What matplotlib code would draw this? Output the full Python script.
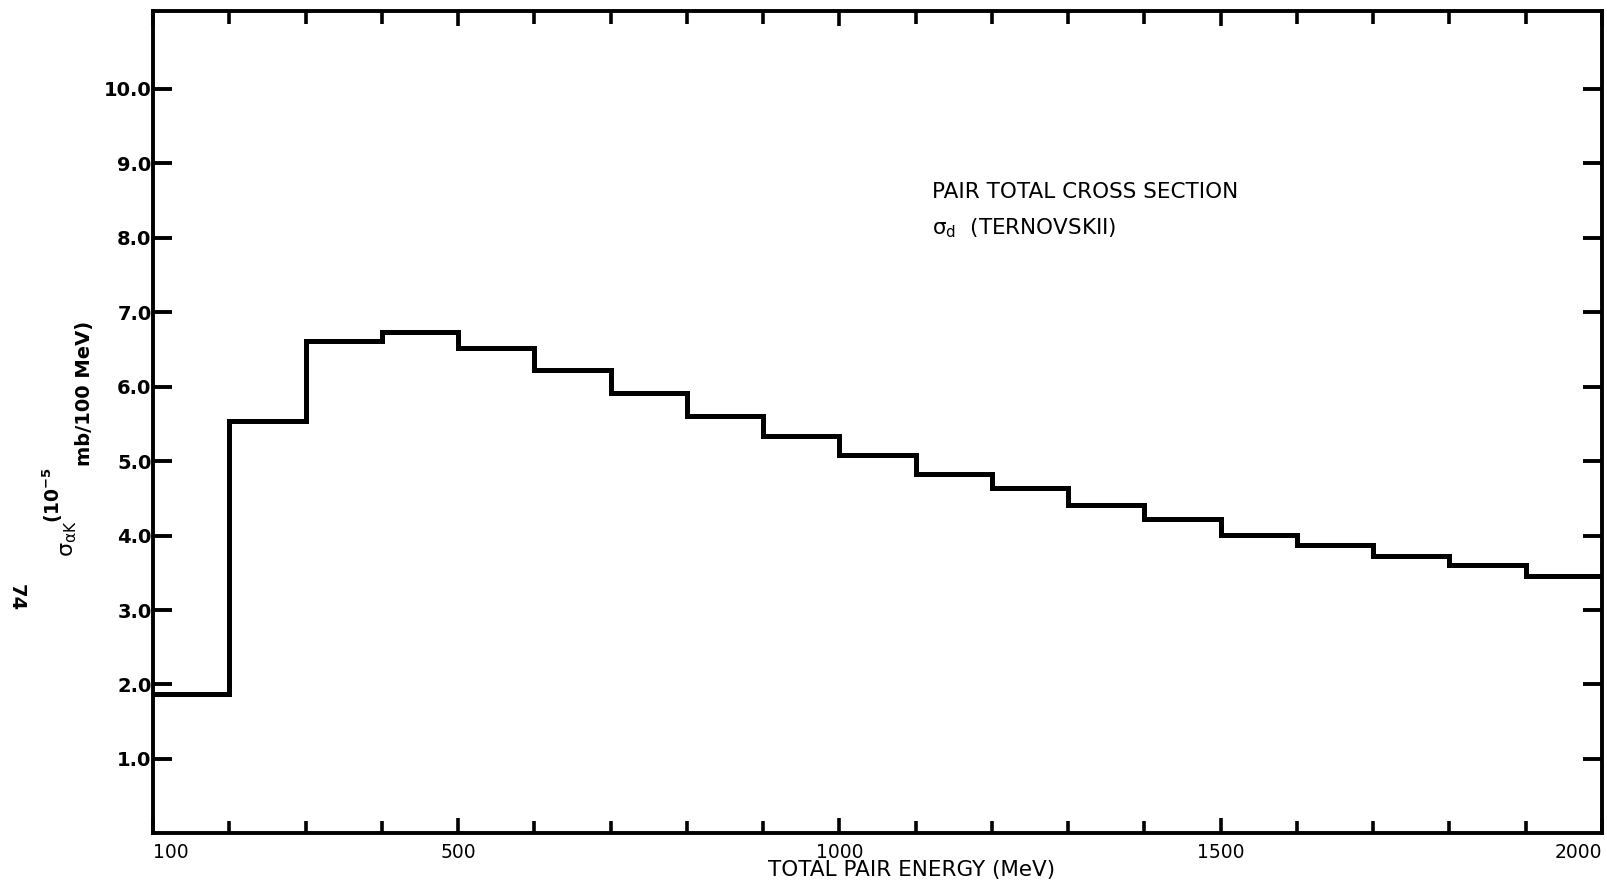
import matplotlib
matplotlib.use("Agg")
import matplotlib.pyplot as plt
from matplotlib.ticker import FixedLocator, FixedFormatter, FormatStrFormatter

# ---- data ----
bin_edges = list(range(100, 2001, 100))          # MeV
cross_section = [1.87, 5.54, 6.62, 6.73, 6.52, 6.23, 5.92, 5.61, 5.34, 5.08,
                 4.83, 4.64, 4.41, 4.22, 4.01, 3.87, 3.73, 3.61, 3.46]
x_labeled = [100, 500, 1000, 1500, 2000]
x_minor = [v for v in bin_edges if v not in x_labeled]
y_ticks = [1, 2, 3, 4, 5, 6, 7, 8, 9, 10]

W, H = 1608, 884
fig = plt.figure(figsize=(W / 100, H / 100), dpi=100)
ax = fig.add_axes([153 / W, 1 - 833.4 / H, (1602 - 153) / W, (833.4 - 10.7) / H])

ax.stairs(cross_section, bin_edges, color="black", linewidth=3.6, baseline=None)

ax.set_xlim(100, 2000)
ax.set_ylim(0, 11.05)

for sp in ax.spines.values():
    sp.set_linewidth(2.8)
    sp.set_color("black")

ax.xaxis.set_major_locator(FixedLocator(x_labeled))
ax.xaxis.set_major_formatter(FixedFormatter([str(v) for v in x_labeled]))
ax.xaxis.set_minor_locator(FixedLocator(x_minor))
ax.yaxis.set_major_locator(FixedLocator(y_ticks))
ax.yaxis.set_major_formatter(FormatStrFormatter("%.1f"))

ax.tick_params(axis="x", which="major", direction="in", length=11, width=2.6,
               top=True, bottom=True, labelsize=13.5, pad=7)
ax.tick_params(axis="x", which="minor", direction="in", length=9, width=2.6,
               top=True, bottom=True)
ax.tick_params(axis="y", which="major", direction="in", length=14, width=2.8,
               left=True, right=True, labelsize=14, pad=1)
for lab in ax.get_yticklabels():
    lab.set_fontweight("bold")
xl = ax.get_xticklabels()
xl[0].set_ha("left")
xl[-1].set_ha("right")

# x axis title
fig.text(912 / W, 1 - 870 / H, "TOTAL PAIR ENERGY (MeV)", ha="center", va="center",
         fontsize=15.5)

# y axis title pieces (typewriter-style offsets)
fig.text(73 / W, 1 - 557 / H, r"$\mathregular{\sigma_{\alpha K}}$", rotation=90,
         rotation_mode="anchor", ha="left", va="baseline", fontsize=16)
fig.text(60 / W, 1 - 523 / H, r"(10$^{\mathbf{-5}}$", rotation=90,
         rotation_mode="anchor", ha="left", va="baseline", fontsize=13.5,
         fontweight="bold")
fig.text(90 / W, 1 - 466 / H, "mb/100 MeV)", rotation=90,
         rotation_mode="anchor", ha="left", va="baseline", fontsize=14,
         fontweight="bold")

# page number
fig.text(16 / W, 1 - 598 / H, "74", rotation=-90, ha="center", va="center",
         fontsize=14, fontweight="bold")

# annotation
fig.text(932 / W, 1 - 192 / H, "PAIR TOTAL CROSS SECTION", ha="left", va="center",
         fontsize=15.5)
fig.text(932 / W, 1 - 228 / H, r"$\mathregular{\sigma_d}$  (TERNOVSKII)", ha="left",
         va="center", fontsize=15.5)

fig.savefig("out.png", dpi=100)
